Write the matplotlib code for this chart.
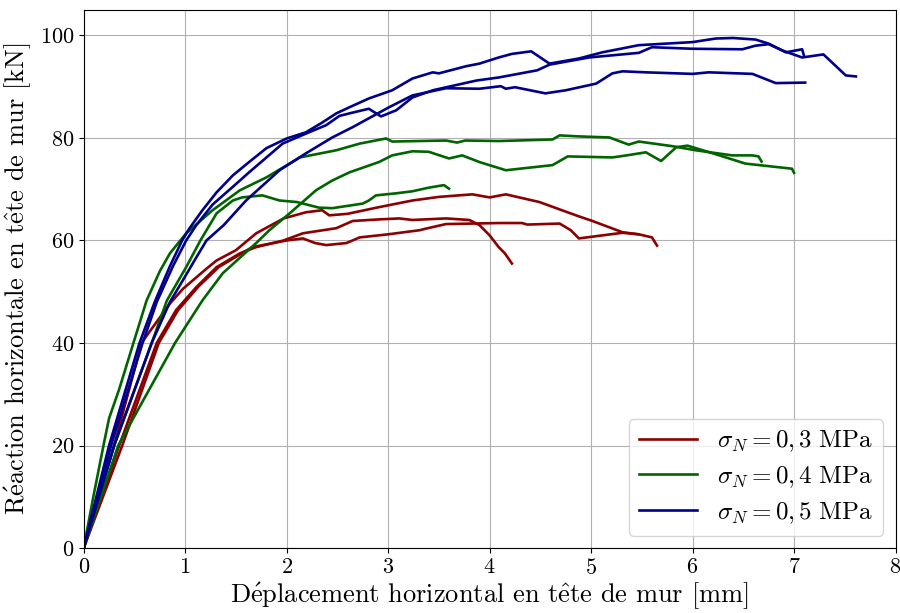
import numpy as np
import matplotlib
matplotlib.use('Agg')
import matplotlib.pyplot as plt

# Police type LaTeX (Computer Modern)
plt.rcParams['font.family'] = 'serif'
plt.rcParams['font.serif'] = ['cmr10']
plt.rcParams['mathtext.fontset'] = 'cm'
plt.rcParams['axes.formatter.use_mathtext'] = True

# sigma_N = 0,3 MPa
r1_x = [0, 0.3, 0.57, 0.66, 0.85, 0.98, 1.21, 1.31, 1.5, 1.7, 1.97, 2.19, 2.35, 2.42, 2.6, 2.91,
        3.24, 3.5, 3.83, 4.0, 4.16, 4.49, 4.88, 5.0, 5.31, 5.47]
r1_y = [0, 20, 40, 42.5, 47.7, 50.6, 54.5, 56.1, 58.1, 61.4, 64.3, 65.5, 65.9, 64.9, 65.2, 66.5,
        67.8, 68.5, 69.0, 68.4, 69.0, 67.5, 64.7, 63.9, 61.6, 61.2]
r2_x = [0, 0.35, 0.72, 0.91, 1.11, 1.31, 1.54, 1.7, 1.97, 2.16, 2.49, 2.65, 2.9, 3.11, 3.24, 3.57,
        3.8, 3.9, 4.0, 4.09, 4.15, 4.22]
r2_y = [0, 20, 40, 46.4, 50.9, 54.8, 57.5, 58.7, 60, 61.4, 62.4, 63.8, 64.1, 64.3, 64.0, 64.3,
        64.0, 63.0, 61.0, 58.7, 57.5, 55.5]
r3_x = [0, 0.38, 0.74, 0.93, 1.13, 1.33, 1.66, 2.0, 2.16, 2.28, 2.39, 2.59, 2.72, 3.0, 3.31, 3.37,
        3.57, 4.09, 4.32, 4.37, 4.69, 4.8, 4.88, 5.31, 5.47, 5.6, 5.65]
r3_y = [0, 20, 40, 46.4, 51, 54.8, 58.7, 60, 60.4, 59.5, 59.1, 59.5, 60.6, 61.2, 62, 62.3,
        63.2, 63.4, 63.4, 63.1, 63.3, 62.0, 60.4, 61.5, 61.2, 60.6, 59.0]

# sigma_N = 0,4 MPa
g1_x = [0, 0.1, 0.2, 0.25, 0.35, 0.49, 0.62, 0.75, 0.85, 1.01, 1.27, 1.54, 1.8, 2.13, 2.49, 2.72,
        2.98, 3.04, 3.57, 3.68, 3.76, 4.09, 4.62, 4.69, 4.88, 5.18, 5.37, 5.47, 5.8, 6.03, 6.39,
        6.59, 6.65, 6.68]
g1_y = [0, 10.5, 20.5, 25.3, 31, 40, 48.3, 54, 57.5, 61.4, 65.9, 69.8, 72.3, 76.2, 77.6, 78.9,
        79.9, 79.3, 79.5, 79.1, 79.5, 79.4, 79.7, 80.5, 80.3, 80.1, 78.7, 79.3, 78.4, 77.6, 76.6,
        76.6, 76.4, 75.4]
g2_x = [0, 0.3, 0.67, 0.82, 1.01, 1.15, 1.31, 1.47, 1.56, 1.76, 1.93, 2.1, 2.32, 2.45, 2.75, 2.81,
        2.88, 3.08, 3.24, 3.4, 3.55, 3.6]
g2_y = [0, 20, 40, 48.3, 54.8, 60, 65.3, 67.8, 68.4, 68.8, 67.8, 67.5, 66.4, 66.3, 67.2, 67.8,
        68.8, 69.2, 69.6, 70.3, 70.8, 70.1]
g3_x = [0, 0.34, 0.9, 1.17, 1.37, 1.7, 1.83, 2.03, 2.29, 2.45, 2.62, 2.91, 3.04, 3.24, 3.4, 3.6,
        3.73, 3.9, 4.16, 4.62, 4.77, 5.21, 5.35, 5.54, 5.69, 5.84, 5.95, 6.2, 6.52, 6.98, 7.0]
g3_y = [0, 20, 40, 48.3, 53.6, 59.5, 62, 65.3, 69.8, 71.7, 73.3, 75.3, 76.6, 77.4, 77.3, 76,
        76.6, 75.3, 73.7, 74.7, 76.4, 76.2, 76.6, 77.2, 75.5, 78.2, 78.5, 77.0, 75.0, 74.0, 73.2]

# sigma_N = 0,5 MPa
b1_x = [0, 0.25, 0.55, 0.7, 0.85, 0.97, 1.04, 1.17, 1.31, 1.47, 1.63, 1.8, 2.0, 2.19, 2.35, 2.49,
        2.62, 2.81, 3.04, 3.24, 3.44, 3.5, 3.77, 3.9, 4.09, 4.22, 4.41, 4.59, 4.88, 5.11, 5.47,
        6.0, 6.23, 6.4, 6.62, 6.75, 6.88, 7.08, 7.29, 7.51, 7.61]
b1_y = [0, 20, 40, 48, 55, 60, 62.3, 65.9, 69.4, 72.7, 75.3, 78, 79.9, 81.1, 83, 84.8,
        86, 87.7, 89.3, 91.6, 92.8, 92.6, 94, 94.5, 95.7, 96.4, 96.9, 94.5, 95.5, 96.7, 98.1,
        98.7, 99.4, 99.5, 99.2, 98.4, 97.1, 95.7, 96.3, 92.2, 92.0]
b2_x = [0, 0.27, 0.58, 0.72, 0.88, 1.01, 1.11, 1.27, 1.5, 1.63, 1.76, 1.96, 2.22, 2.39, 2.52, 2.62,
        2.81, 2.93, 3.08, 3.24, 3.44, 3.87, 4.09, 4.47, 4.59, 4.98, 5.47, 5.6, 6.0, 6.49, 6.62,
        6.75, 6.85, 6.92, 7.08, 7.1]
b2_y = [0, 20, 40, 48, 55, 60, 63, 67, 71, 73.3, 75.5, 78.9, 81.1, 82.5, 84.3, 84.8,
        85.7, 84.2, 85.4, 87.9, 89.3, 91.2, 91.8, 93.2, 94.3, 95.7, 96.6, 97.7, 97.4, 97.3, 98.0,
        98.3, 97.4, 96.7, 97.3, 95.9]
b3_x = [0, 0.3, 0.67, 0.85, 1.0, 1.11, 1.21, 1.38, 1.6, 1.93, 2.19, 2.45, 2.65, 3.01, 3.24, 3.57,
        3.9, 4.11, 4.16, 4.25, 4.55, 4.75, 5.05, 5.21, 5.31, 5.54, 6.0, 6.16, 6.59, 6.82, 7.11]
b3_y = [0, 20, 40, 48, 53, 56.7, 60, 63, 67.8, 73.7, 77, 80.1, 82.1, 86, 88.3, 89.7,
        89.6, 90.1, 89.6, 89.9, 88.7, 89.3, 90.6, 92.6, 93, 92.8, 92.5, 92.8, 92.5, 90.7, 90.8]

fig, ax = plt.subplots(figsize=(9, 6.13), dpi=100)
fig.subplots_adjust(left=0.093, right=0.995, bottom=0.106, top=0.984)

lw = 1.9
ax.plot(r1_x, r1_y, color='darkred', lw=lw, label=r'$\sigma_N = 0,3\ \mathrm{MPa}$')
ax.plot(r2_x, r2_y, color='darkred', lw=lw)
ax.plot(r3_x, r3_y, color='darkred', lw=lw)
ax.plot(g1_x, g1_y, color='darkgreen', lw=lw, label=r'$\sigma_N = 0,4\ \mathrm{MPa}$')
ax.plot(g2_x, g2_y, color='darkgreen', lw=lw)
ax.plot(g3_x, g3_y, color='darkgreen', lw=lw)
ax.plot(b1_x, b1_y, color='darkblue', lw=lw, label=r'$\sigma_N = 0,5\ \mathrm{MPa}$')
ax.plot(b2_x, b2_y, color='darkblue', lw=lw)
ax.plot(b3_x, b3_y, color='darkblue', lw=lw)

ax.set_xlim(0, 8)
ax.set_ylim(0, 105)
ax.set_xticks(np.arange(0, 9, 1))
ax.set_yticks(np.arange(0, 101, 20))
ax.tick_params(labelsize=16)
ax.grid(True)
ax.set_xlabel(r'D$\acute{\mathrm{e}}$placement horizontal en t$\hat{\mathrm{e}}$te de mur [mm]',
              fontsize=19, labelpad=2)
ax.set_ylabel(r'R$\acute{\mathrm{e}}$action horizontale en t$\hat{\mathrm{e}}$te de mur [kN]',
              fontsize=19)
ax.legend(loc='lower right', fontsize=18, handlelength=2.3, labelspacing=0.4)

plt.savefig('out.png')
